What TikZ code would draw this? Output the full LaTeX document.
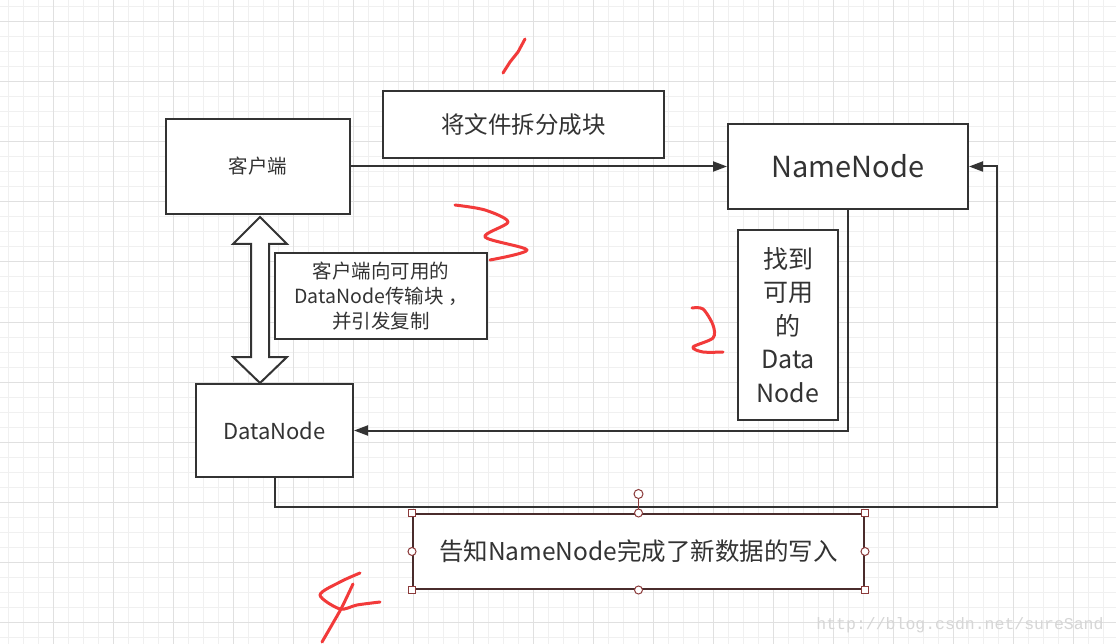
\documentclass[tikz,border=0pt]{standalone}
\usepackage{fontspec}
\usetikzlibrary{arrows.meta}
\newfontfamily\cjk{Noto Sans CJK SC}
\setmonofont{Liberation Mono}
\definecolor{ink}{HTML}{333333}
\definecolor{minorg}{HTML}{F0F0F0}
\definecolor{majorg}{HTML}{E0E0E0}
\definecolor{redpen}{HTML}{F23A3A}
\definecolor{selc}{HTML}{8B3A3A}
\definecolor{selb}{HTML}{4A2C2C}
\definecolor{wmark}{HTML}{D6D6D6}
\begin{document}
\begin{tikzpicture}[x=1pt,y=-1pt,
  box/.style={draw=ink, line width=2pt, fill=white, text=ink, align=center, inner sep=0pt},
  conn/.style={draw=ink, line width=2pt, -{Triangle[length=14pt,width=10pt]}},
  pen/.style={draw=redpen, line width=3pt, line cap=round, line join=round},
  handlesq/.style={draw=selc, fill=white, line width=1pt, minimum size=7pt, inner sep=0pt},
  handlec/.style={draw=selc, fill=white, line width=1pt, circle, minimum size=8pt, inner sep=0pt}]
\useasboundingbox (0,0) rectangle (1116,644);
\fill[white] (0,0) rectangle (1116,644);
% grid
\foreach \x in {8,23,...,1116} \draw[minorg, line width=1pt] (\x,0) -- (\x,644);
\foreach \y in {7,22,...,644} \draw[minorg, line width=1pt] (0,\y) -- (1116,\y);
\foreach \x in {53,113,...,1116} \draw[majorg, line width=1pt] (\x,0) -- (\x,644);
\foreach \y in {22,82,...,644} \draw[majorg, line width=1pt] (0,\y) -- (1116,\y);

% boxes
\node[box, minimum width=184pt, minimum height=95pt, font=\cjk\fontsize{19.5}{24}\selectfont] (client) at (258,166.5) {客户端};
\node[box, minimum width=281pt, minimum height=67pt, font=\cjk\fontsize{23.5}{28}\selectfont] (split) at (523.5,124.5) {将文件拆分成块};
\node[box, minimum width=240pt, minimum height=85pt, font=\cjk\fontsize{29}{34}\selectfont] (nn) at (848,166.5) {NameNode};
\node[box, minimum width=212pt, minimum height=86pt, font=\cjk\fontsize{19.5}{25}\selectfont] (note) at (381,296) {客户端向可用的\\DataNode传输块 ，\\并引发复制};
\node[box, minimum width=100pt, minimum height=190pt, font=\cjk\fontsize{25}{33.5}\selectfont] (find) at (788,325) {找到\\可用\\的\\Data\\Node};
\node[box, minimum width=157pt, minimum height=93pt, font=\cjk\fontsize{22}{26}\selectfont] (dn) at (274.5,430.5) {DataNode};
\node[box, draw=selb, minimum width=451pt, minimum height=75pt, font=\cjk\fontsize{24.5}{29}\selectfont] (tell) at (638.5,551.5) {告知NameNode完成了新数据的写入};

% connectors
\draw[conn] (client.east) -- (nn.west);
\draw[conn] (nn.south) |- (dn.east);
\coordinate (turn) at (997,507);
\draw[conn] (dn.south) |- (turn) |- (nn.east);

% double arrow
\draw[draw=ink, fill=white, line width=2pt, line join=miter]
  (260,217) -- (287,244) -- (269,244) -- (269,357) -- (287,357) -- (260,383)
  -- (233,357) -- (251,357) -- (251,244) -- (233,244) -- cycle;

% selection handles
\coordinate (rot) at (638.5,494);
\draw[selc, line width=1pt] (rot) ++(0,4) -- (tell.north);
\node[handlec, minimum size=9pt] (rh) at (rot) {};
\node[handlesq] (h1) at (tell.north west) {};
\node[handlesq] (h2) at (tell.north east) {};
\node[handlesq] (h3) at (tell.south west) {};
\node[handlesq] (h4) at (tell.south east) {};
\node[handlec] (h5) at (tell.north) {};
\node[handlec] (h6) at (tell.south) {};
\node[handlec] (h7) at (tell.west) {};
\node[handlec] (h8) at (tell.east) {};

% red handwriting
\draw[pen] (525,39) -- (518,52) -- (510,62) -- (503,73);
\draw[pen] plot[smooth, tension=0.5] coordinates {(455,205) (485,210) (508,222) (485,237) (527,250) (490,260)};
\draw[pen] plot[smooth, tension=0.5] coordinates {(692,308) (703,309) (713,325) (713,338) (693,347) (703,352) (723,352)};
\draw[pen] plot[smooth, tension=0.5] coordinates {(360,573) (340,582) (320,595) (340,609) (357,605) (380,602)};
\draw[pen] plot[smooth, tension=0.5] coordinates {(353,584) (342,607) (333,623) (322,642)};

% watermark
\node[text=wmark, font=\ttfamily\fontsize{16.5}{18}\selectfont, inner sep=0pt] (wm) at (960,625) {http://blog.csdn.net/sureSand};
\end{tikzpicture}
\end{document}
